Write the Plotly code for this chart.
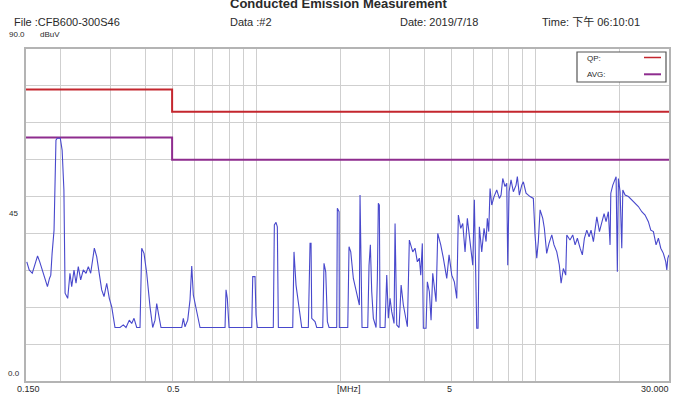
import plotly.graph_objects as go

# Measured spectrum (MHz, dBuV)
freq_mhz = [
    0.151, 0.154, 0.158, 0.165, 0.168, 0.173, 0.179, 0.182, 0.184, 0.186,
    0.189, 0.192, 0.194, 0.199, 0.202, 0.205, 0.207, 0.2115, 0.2155, 0.2186,
    0.2228, 0.2265, 0.2308, 0.2354, 0.2405, 0.246, 0.2507, 0.2556, 0.2634, 0.2686,
    0.2744, 0.2799, 0.2853, 0.2917, 0.298, 0.304, 0.3123, 0.3255, 0.3344, 0.342,
    0.3514, 0.3584, 0.3653, 0.3735, 0.3838, 0.3892, 0.3966, 0.4056, 0.4168, 0.4261,
    0.4343, 0.4404, 0.4489, 0.4563, 0.5412, 0.5484, 0.5561, 0.5686, 0.5795, 0.5877,
    0.5955, 0.6124, 0.6293, 0.7733, 0.7797, 0.788, 0.7992, 0.9636, 0.9716, 0.99,
    0.9983, 1.009, 1.151, 1.161, 1.177, 1.19, 1.194, 1.2, 1.351, 1.365,
    1.388, 1.415, 1.443, 1.455, 1.536, 1.549, 1.558, 1.571, 1.58, 1.623,
    1.646, 1.73, 1.748, 1.773, 1.797, 1.822, 1.941, 1.951, 1.979, 1.983,
    2.126, 2.148, 2.179, 2.226, 2.289, 2.339, 2.352, 2.372, 2.391, 2.506,
    2.533, 2.561, 2.59, 2.625, 2.684, 2.713, 2.735, 2.758, 2.774, 2.89,
    2.931, 2.97, 3.012, 3.054, 3.113, 3.139, 3.165, 3.183, 3.245, 3.30,
    3.361, 3.474, 3.531, 3.632, 3.701, 3.772, 3.835, 3.879, 3.93, 3.963,
    4.052, 4.096, 4.164, 4.223, 4.282, 4.339, 4.4, 4.462, 4.574, 4.673,
    4.806, 4.898, 5.008, 5.116, 5.219, 5.288, 5.393, 5.483, 5.588, 5.695,
    5.823, 5.954, 6.033, 6.083, 6.153, 6.22, 6.287, 6.412, 6.535, 6.644,
    6.715, 6.793, 6.866, 6.963, 7.096, 7.256, 7.413, 7.518, 7.624, 7.769,
    7.879, 7.944, 8.03, 8.163, 8.319, 8.507, 8.598, 8.741, 8.916, 9.035,
    9.237, 9.548, 9.81, 9.948, 10.09, 10.22, 10.37, 10.6, 10.74, 10.95,
    11.16, 11.42, 11.63, 11.9, 12.15, 12.33, 12.56, 12.81, 12.92, 13.27,
    13.57, 13.84, 14.1, 14.42, 14.69, 14.94, 15.24, 15.53, 15.78, 16.09,
    16.55, 16.91, 17.24, 17.57, 17.86, 18.2, 18.46, 18.57, 18.88, 19.13,
    19.4, 19.6, 19.77, 20.05, 20.33, 20.5, 20.89, 21.47, 22.08, 22.69,
    23.31, 23.97, 24.63, 25.31, 25.82, 26.38, 26.97, 27.49, 28.03, 28.64,
    29.21, 29.46, 29.71, 30.0,
]
level_dbuv = [
    32.3, 30.1, 29.2, 33.9, 32.3, 29.2, 25.6, 27.8, 28.7, 34.6,
    40.9, 65.3, 65.8, 65.8, 62.6, 51.8, 23.8, 22.4, 29.2, 25.6,
    30.1, 26.5, 31.0, 27.4, 30.1, 29.2, 31.0, 29.2, 36.0, 33.7,
    29.2, 24.7, 22.9, 26.5, 22.4, 20.1, 14.5, 14.5, 15.2, 14.5,
    16.5, 15.6, 17.0, 14.5, 14.5, 36.0, 34.6, 29.2, 20.1, 14.5,
    16.5, 21.0, 17.4, 14.5, 14.5, 17.0, 14.7, 16.5, 22.0, 31.2,
    23.3, 18.8, 14.5, 14.5, 24.7, 22.4, 14.5, 14.5, 28.3, 28.3,
    17.9, 14.5, 14.5, 42.3, 43.0, 41.8, 27.4, 14.5, 14.5, 35.0,
    26.0, 20.6, 15.6, 14.5, 14.5, 26.0, 37.3, 37.3, 17.0, 16.1,
    14.5, 14.5, 31.9, 29.6, 16.1, 14.5, 14.5, 46.8, 45.9, 14.5,
    14.5, 36.4, 35.0, 27.8, 24.2, 20.6, 50.4, 33.3, 14.5, 14.5,
    31.4, 36.9, 24.2, 17.0, 14.5, 27.8, 48.2, 47.7, 14.5, 14.5,
    28.7, 17.0, 22.4, 18.8, 15.6, 42.7, 27.4, 15.2, 14.5, 26.0,
    20.6, 14.7, 38.2, 35.0, 36.0, 32.3, 33.3, 28.7, 37.3, 14.3,
    14.3, 26.9, 24.2, 16.5, 29.2, 26.0, 21.5, 40.0, 36.9, 33.3,
    27.8, 34.2, 28.7, 26.9, 22.4, 45.0, 41.4, 42.7, 35.0, 44.1,
    37.8, 31.4, 49.1, 28.7, 14.3, 14.3, 41.8, 35.0, 41.4, 37.8,
    44.1, 40.5, 52.2, 47.7, 50.0, 51.8, 49.5, 50.4, 54.9, 52.7,
    53.6, 31.4, 51.3, 54.5, 51.3, 53.1, 55.4, 50.4, 53.1, 54.0,
    50.9, 50.0, 49.5, 39.6, 33.3, 37.8, 46.4, 44.1, 41.4, 34.6,
    37.3, 39.6, 36.9, 35.0, 31.4, 26.5, 30.5, 28.7, 39.6, 38.2,
    39.6, 36.9, 38.7, 36.0, 34.2, 38.7, 40.9, 39.1, 40.9, 37.8,
    44.5, 40.5, 42.7, 45.4, 43.2, 45.9, 36.9, 50.9, 53.1, 54.5,
    55.4, 29.6, 54.9, 51.3, 36.0, 51.8, 50.4, 50.0, 49.1, 48.2,
    47.3, 45.9, 45.0, 43.2, 40.9, 40.5, 36.9, 38.7, 36.0, 34.6,
    32.3, 30.1, 33.3, 34.2,
]

# Limit lines
qp_freq = [0.15, 0.5, 0.5, 30.0]
qp_level = [79.0, 79.0, 73.0, 73.0]
avg_freq = [0.15, 0.5, 0.5, 30.0]
avg_level = [66.0, 66.0, 60.0, 60.0]

# Axis labels
x_tick_labels = ["0.150", "0.5", "[MHz]", "5", "30.000"]
y_tick_labels = ["90.0", "45", "0.0"]

QP_COLOR = "#c4262e"
AVG_COLOR = "#8e2c8e"
TRACE_COLOR = "#4848cc"
FONT = "Liberation Sans, Arial, Noto Sans CJK SC, sans-serif"
TXT = "#2a2a2a"

fig = go.Figure()
fig.add_trace(go.Scatter(x=qp_freq, y=qp_level, mode="lines",
                         line=dict(color=QP_COLOR, width=2), hoverinfo="skip"))
fig.add_trace(go.Scatter(x=avg_freq, y=avg_level, mode="lines",
                         line=dict(color=AVG_COLOR, width=2), hoverinfo="skip"))
fig.add_trace(go.Scatter(x=freq_mhz, y=level_dbuv, mode="lines",
                         line=dict(color=TRACE_COLOR, width=1.1)))

fig.update_xaxes(type="log", range=[-0.8239, 1.4771], dtick="D1",
                 showticklabels=False, ticks="", showgrid=True,
                 gridcolor="#cfcfcf", gridwidth=1, showline=True,
                 linecolor="#b4b4b4", linewidth=1.5, mirror=True, zeroline=False)
fig.update_yaxes(range=[0, 90], dtick=10, showticklabels=False, ticks="",
                 showgrid=True, gridcolor="#cfcfcf", gridwidth=1,
                 showline=True, linecolor="#b4b4b4", linewidth=1.5,
                 mirror=True, zeroline=False)

W, H = 685, 394
L, R, T, B = 26, 16, 49, 13
pw, ph = W - L - R, H - T - B


def px(xp):
    return (xp - L) / pw


def py(yp):
    return (H - B - yp) / ph


ann = []


def add_text(text, xp, yp, size=10, anchor="left", bold=False):
    ann.append(dict(text=f"<b>{text}</b>" if bold else text,
                    x=px(xp), y=py(yp), xref="paper", yref="paper",
                    xanchor=anchor, yanchor="middle", showarrow=False,
                    font=dict(family=FONT, size=size, color=TXT)))


add_text("Conducted Emission Measurement", 338, 3, size=13, anchor="center", bold=True)
add_text("File :CFB600-300S46", 12, 22, size=11)
add_text("Data :#2", 228, 22, size=11)
add_text("Date: 2019/7/18", 398, 22, size=11)
add_text("Time: 下午 06:10:01", 540, 22, size=11)
add_text("dBuV", 38, 35, size=8)

y_label_pos = [(7, 35), (7, 213), (6, 373)]
for t, (xp, yp) in zip(y_tick_labels, y_label_pos):
    add_text(t, xp, yp, size=8)

x_label_pos = [(28.5, "center"), (173, "center"), (349, "center"),
               (449, "center"), (671, "right")]
for t, (xp, anc) in zip(x_tick_labels, x_label_pos):
    add_text(t, xp, 389, size=9, anchor=anc)

# Legend
add_text("QP:", 585, 58, size=8)
add_text("AVG:", 585, 74, size=8)

shapes = [
    dict(type="rect", xref="paper", yref="paper",
         x0=px(577), x1=px(666), y0=py(82), y1=py(52),
         line=dict(color="#555555", width=1.2), fillcolor="white", layer="above"),
    dict(type="line", xref="paper", yref="paper",
         x0=px(644), x1=px(661), y0=py(57.5), y1=py(57.5),
         line=dict(color=QP_COLOR, width=1.5), layer="above"),
    dict(type="line", xref="paper", yref="paper",
         x0=px(644), x1=px(661), y0=py(74.3), y1=py(74.3),
         line=dict(color=AVG_COLOR, width=2), layer="above"),
]

fig.update_layout(width=W, height=H, margin=dict(l=L, r=R, t=T, b=B),
                  paper_bgcolor="white", plot_bgcolor="white",
                  showlegend=False, annotations=ann, shapes=shapes,
                  font=dict(family=FONT))

fig.write_html(
    "out.html",
    config={"displayModeBar": False},
    post_script="document.body.style.margin='0';document.body.style.padding='0';"
                "document.body.style.overflow='hidden';",
)
